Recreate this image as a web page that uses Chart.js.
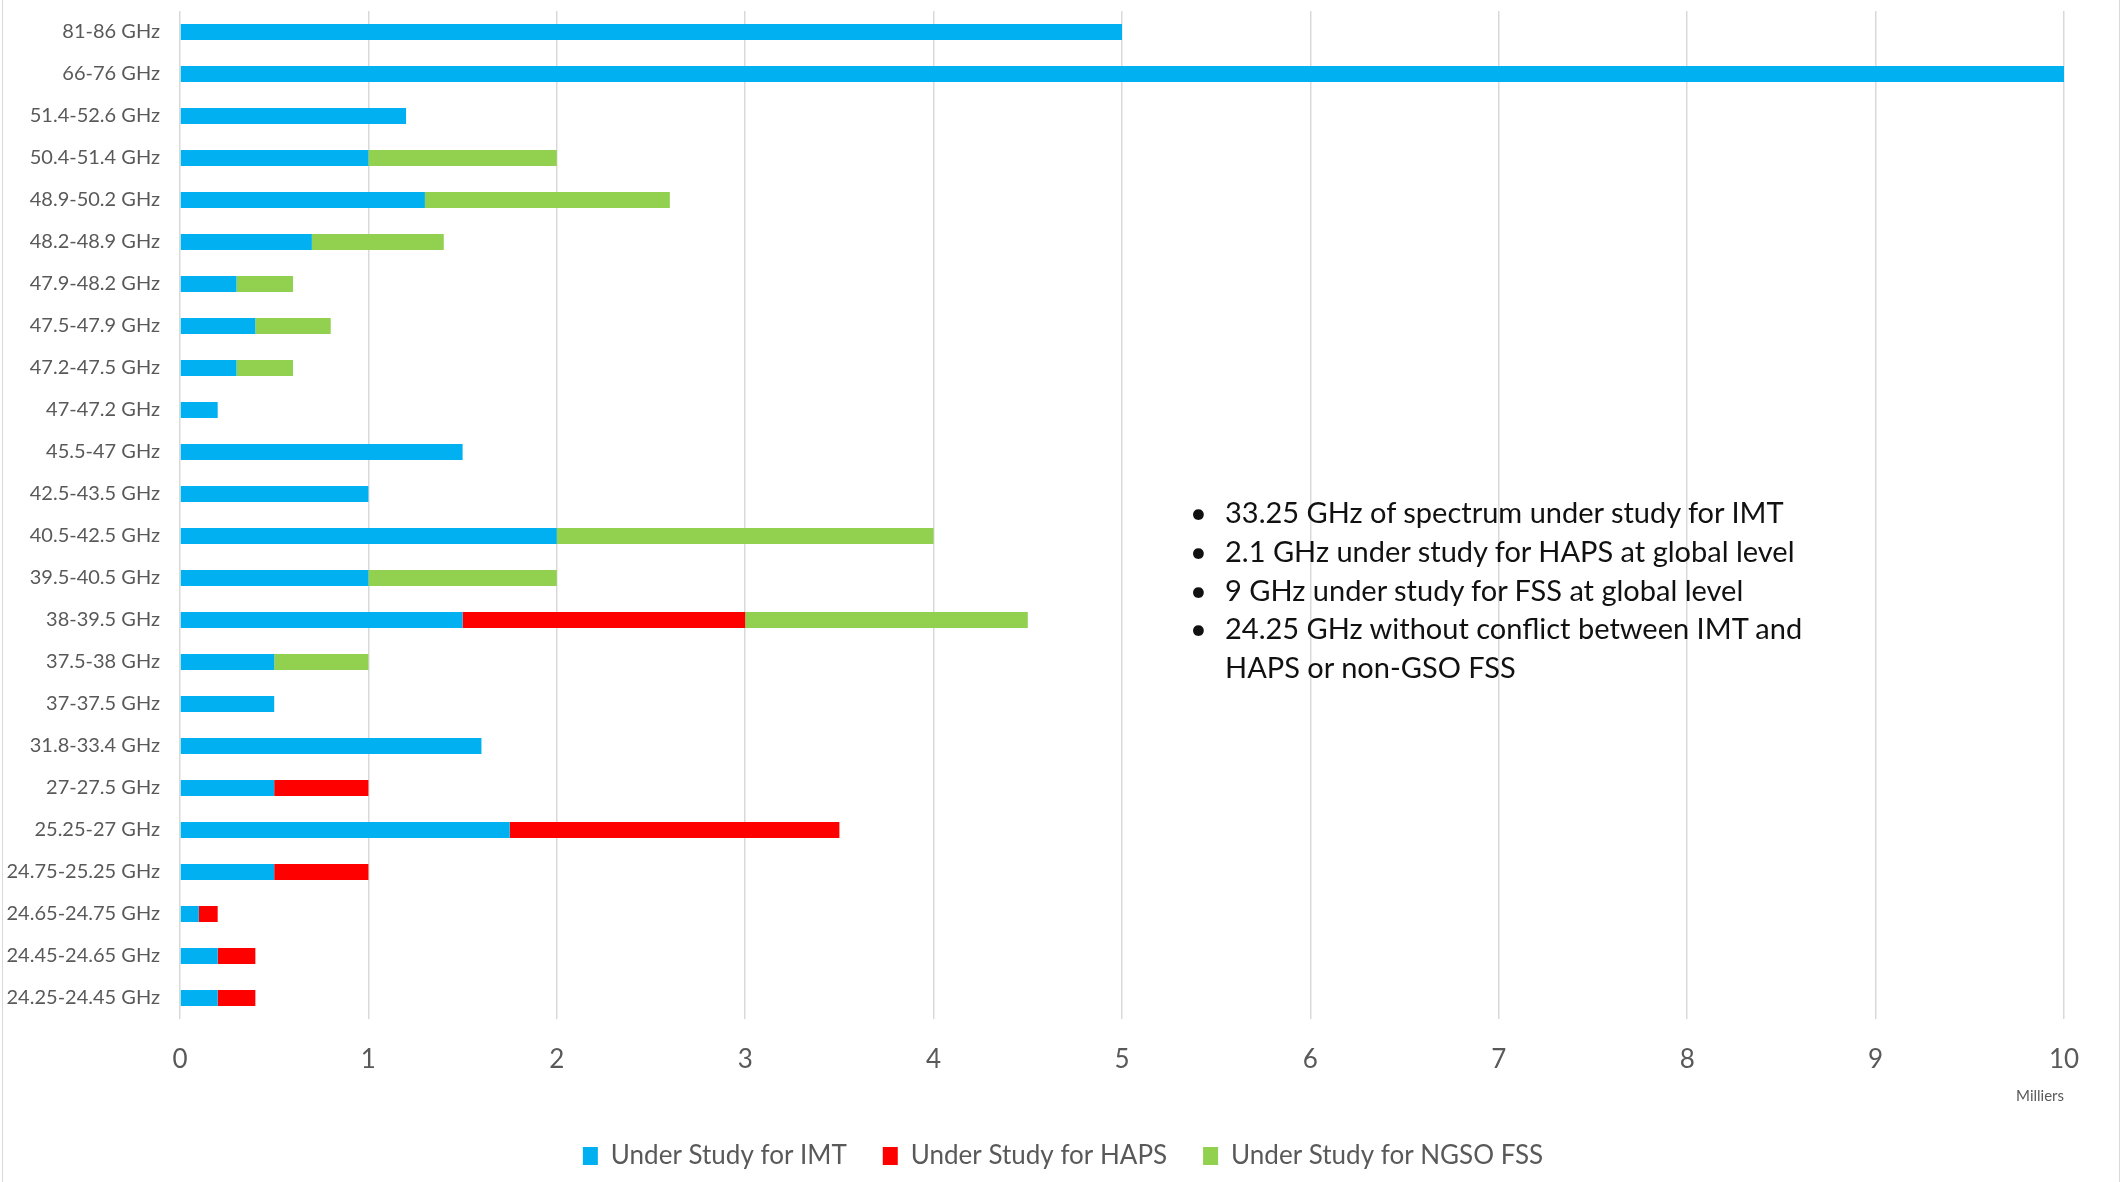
<!DOCTYPE html>
<html>
<head>
<meta charset="utf-8">
<script src="https://cdn.jsdelivr.net/npm/chart.js"></script>
<style>
  html, body { margin: 0; padding: 0; background: #fff; }
  #wrap { position: relative; width: 2126px; height: 1182px; }
  #frame { position: absolute; left: 2px; top: -2px; width: 2116px; height: 1200px; border: 1px solid #d9d9d9; pointer-events: none; }
  #note { position: absolute; left: 1190px; top: 493px; font-family: Lato, "Open Sans", sans-serif; font-size: 29px; line-height: 38.75px; color: #111; }
  #note div { position: relative; padding-left: 35px; }
  #note div.b::before { content: "\2022"; position: absolute; left: 0; top: 0; }
</style>
</head>
<body>
<div id="wrap">
  <canvas id="chart" width="2126" height="1182"></canvas>
  <div id="frame"></div>
  <div id="note">
    <div class="b">33.25 GHz of spectrum under study for IMT</div>
    <div class="b">2.1 GHz under study for HAPS at global level</div>
    <div class="b">9 GHz under study for FSS at global level</div>
    <div class="b">24.25 GHz without conflict between IMT and</div>
    <div>HAPS or non-GSO FSS</div>
  </div>
</div>
<script>
// bandes de fréquences (de haut en bas)
const bandes = [
  "81-86 GHz", "66-76 GHz", "51.4-52.6 GHz", "50.4-51.4 GHz", "48.9-50.2 GHz",
  "48.2-48.9 GHz", "47.9-48.2 GHz", "47.5-47.9 GHz", "47.2-47.5 GHz", "47-47.2 GHz",
  "45.5-47 GHz", "42.5-43.5 GHz", "40.5-42.5 GHz", "39.5-40.5 GHz", "38-39.5 GHz",
  "37.5-38 GHz", "37-37.5 GHz", "31.8-33.4 GHz", "27-27.5 GHz", "25.25-27 GHz",
  "24.75-25.25 GHz", "24.65-24.75 GHz", "24.45-24.65 GHz", "24.25-24.45 GHz"
];
// valeurs en MHz
const imt = [5000, 10000, 1200, 1000, 1300, 700, 300, 400, 300, 200,
             1500, 1000, 2000, 1000, 1500, 500, 500, 1600, 500, 1750,
             500, 100, 200, 200];
const haps = [0, 0, 0, 0, 0, 0, 0, 0, 0, 0,
              0, 0, 0, 0, 1500, 0, 0, 0, 500, 1750,
              500, 100, 200, 200];
const ngso = [0, 0, 0, 1000, 1300, 700, 300, 400, 300, 0,
              0, 0, 2000, 1000, 1500, 500, 0, 0, 0, 0,
              0, 0, 0, 0];
const ticksX = [0, 1, 2, 3, 4, 5, 6, 7, 8, 9, 10];

const police = 'Lato, "Open Sans", sans-serif';

const fond = {
  id: 'fond',
  beforeDraw(chart) {
    const c = chart.ctx;
    c.save();
    c.fillStyle = '#fff';
    c.fillRect(0, 0, chart.width, chart.height);
    c.restore();
  }
};

function dataset(label, data, color) {
  return {
    label: label,
    data: data,
    backgroundColor: color,
    borderWidth: 0,
    barPercentage: 0.76,
    categoryPercentage: 0.5
  };
}

new Chart(document.getElementById('chart'), {
  type: 'bar',
  data: {
    labels: bandes,
    datasets: [
      dataset('Under Study for IMT', imt, '#00B0F0'),
      dataset('Under Study for HAPS', haps, '#FF0000'),
      dataset('Under Study for NGSO FSS', ngso, '#92D050')
    ]
  },
  options: {
    indexAxis: 'y',
    responsive: false,
    animation: false,
    layout: { padding: { left: 0, right: 0, top: 11, bottom: 3 } },
    scales: {
      x: {
        stacked: true,
        min: 0,
        max: 10000,
        afterBuildTicks(scale) {
          scale.ticks = ticksX.map(v => ({ value: v * 1000 }));
        },
        afterFit(scale) {
          scale.height = 88;
          scale.paddingRight = 62;
        },
        ticks: {
          callback: v => String(v / 1000),
          color: '#595959',
          font: { family: police, size: 26 },
          padding: 25,
          maxRotation: 0
        },
        grid: { color: '#d9d9d9', lineWidth: 1.5, drawTicks: false },
        border: { display: false },
        title: {
          display: true,
          text: 'Milliers',
          align: 'end',
          color: '#595959',
          font: { family: police, size: 15 },
          padding: { top: 0, bottom: 2 }
        }
      },
      y: {
        stacked: true,
        afterFit(scale) {
          scale.width = 180;
          scale.paddingTop = 0;
          scale.paddingBottom = 0;
        },
        ticks: {
          color: '#595959',
          font: { family: police, size: 20 },
          padding: 12
        },
        grid: { display: false },
        border: { display: false }
      }
    },
    plugins: {
      tooltip: { enabled: false },
      legend: {
        position: 'bottom',
        labels: {
          boxWidth: 15,
          boxHeight: 18,
          color: '#595959',
          font: { family: police, size: 26 },
          padding: 36
        }
      }
    }
  },
  plugins: [fond]
});
</script>
</body>
</html>
